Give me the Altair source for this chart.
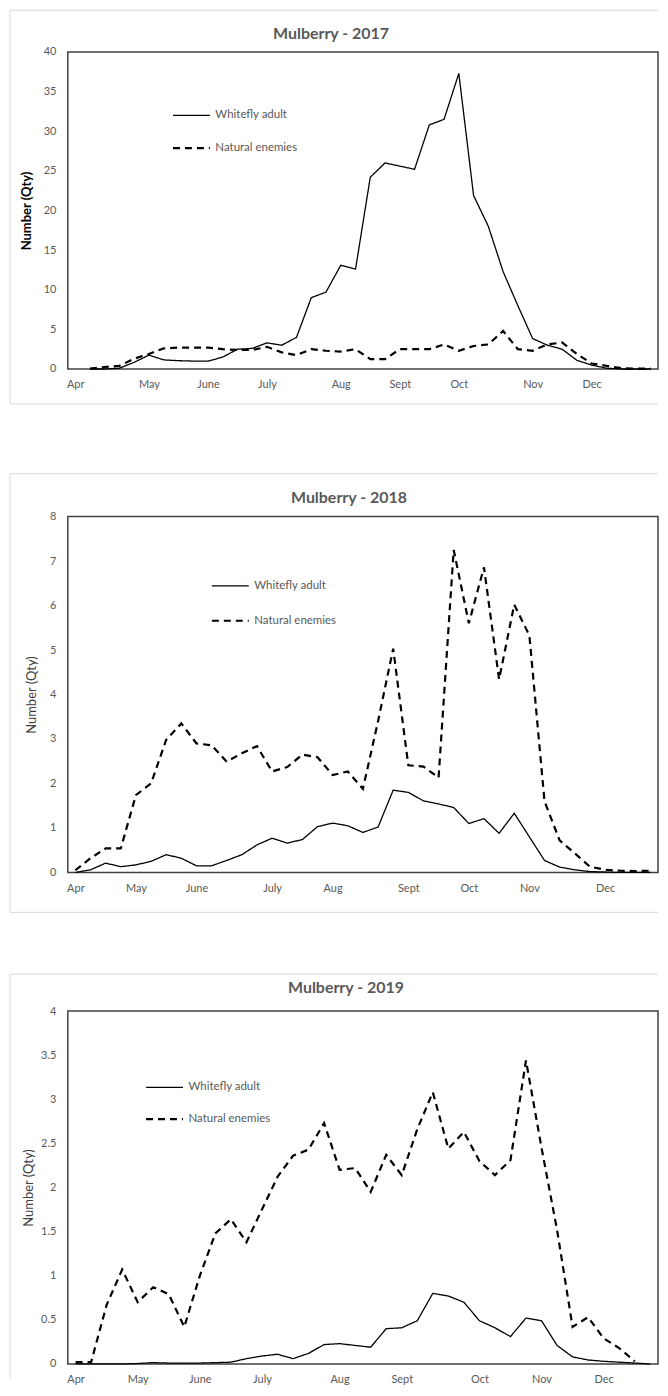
import altair as alt
import pandas as pd

SERIES = ["Whitefly adult", "Natural enemies"]
MONTHS = ["Apr", "May", "June", "July", "Aug", "Sept", "Oct", "Nov", "Dec"]

# ---------------- 2017 (weekly categories 0..39, data from week 1) ----------------
N_2017 = 40
START_2017 = 1
POS_2017 = [0, 5, 9, 13, 18, 22, 26, 31, 35]
YTICKS_2017 = [0, 5, 10, 15, 20, 25, 30, 35, 40]
WHITEFLY_2017 = [0, 0, 0.1, 0.85, 1.75, 1.15, 1.05, 1.0, 1.0, 1.5, 2.5, 2.6, 3.3, 3.0,
                 4.0, 9.0, 9.7, 13.1, 12.6, 24.2, 26.0, 25.6, 25.2, 30.8, 31.5, 37.3,
                 21.9, 18.0, 12.3, 8.0, 3.85, 3.0, 2.5, 1.1, 0.5, 0.1, 0, 0, 0]
ENEMIES_2017 = [0.05, 0.25, 0.4, 1.3, 1.9, 2.6, 2.7, 2.7, 2.7, 2.5, 2.4, 2.4, 2.8, 2.1,
                1.75, 2.5, 2.3, 2.2, 2.5, 1.25, 1.25, 2.5, 2.5, 2.5, 3.1, 2.3, 2.9, 3.1,
                4.8, 2.5, 2.3, 3.1, 3.35, 1.9, 0.7, 0.4, 0.1, 0.05, 0.05]

# ---------------- 2018 (weekly categories 0..38) ----------------
N_2018 = 39
START_2018 = 0
POS_2018 = [0, 4, 8, 13, 17, 22, 26, 30, 35]
YTICKS_2018 = [0, 1, 2, 3, 4, 5, 6, 7, 8]
WHITEFLY_2018 = [0, 0.06, 0.21, 0.13, 0.17, 0.25, 0.4, 0.32, 0.15, 0.15, 0.27, 0.4, 0.62,
                 0.77, 0.66, 0.74, 1.03, 1.11, 1.05, 0.9, 1.02, 1.85, 1.8, 1.61, 1.54,
                 1.46, 1.1, 1.21, 0.88, 1.33, 0.8, 0.27, 0.12, 0.06, 0.02, 0.01, 0, 0, 0]
ENEMIES_2018 = [0.05, 0.32, 0.54, 0.54, 1.74, 2.0, 2.98, 3.35, 2.9, 2.86, 2.49, 2.68, 2.84,
                2.27, 2.37, 2.65, 2.59, 2.19, 2.27, 1.88, 3.4, 5.03, 2.41, 2.38, 2.13,
                7.25, 5.6, 6.86, 4.34, 6.02, 5.33, 1.6, 0.72, 0.43, 0.13, 0.06, 0.04,
                0.03, 0.04]

# ---------------- 2019 (weekly categories 0..37) ----------------
N_2019 = 38
START_2019 = 0
POS_2019 = [0, 4, 8, 12, 17, 21, 26, 30, 34]
YTICKS_2019 = [0, 0.5, 1, 1.5, 2, 2.5, 3, 3.5, 4]
WHITEFLY_2019 = [0, 0, 0, 0, 0.005, 0.015, 0.01, 0.01, 0.01, 0.015, 0.02, 0.06, 0.09,
                 0.11, 0.06, 0.12, 0.22, 0.23, 0.21, 0.19, 0.4, 0.41, 0.49, 0.8, 0.77,
                 0.7, 0.49, 0.41, 0.31, 0.52, 0.49, 0.21, 0.08, 0.045, 0.03, 0.02, 0.01, 0]
ENEMIES_2019 = [0.02, 0.02, 0.67, 1.07, 0.7, 0.87, 0.79, 0.42, 1.0, 1.48, 1.64, 1.38,
                1.75, 2.12, 2.36, 2.43, 2.73, 2.2, 2.22, 1.95, 2.37, 2.14, 2.66, 3.08,
                2.44, 2.63, 2.3, 2.14, 2.31, 3.44, 2.45, 1.52, 0.42, 0.53, 0.29, 0.18, 0.03]

FONT = "Lato"
GREY = "#595959"
BORDER = "#d9d9d9"


def make_df(start, whitefly, enemies):
    rows = []
    for i, v in enumerate(whitefly):
        rows.append({"week": start + i, "value": v, "series": SERIES[0]})
    for i, v in enumerate(enemies):
        rows.append({"week": start + i, "value": v, "series": SERIES[1]})
    return pd.DataFrame(rows)


def legend(g):
    return alt.Legend(title=None, orient="none", legendX=g["lx"], legendY=g["ly"],
                      symbolType="stroke", symbolSize=1369, symbolStrokeColor="black",
                      labelFont=FONT, labelFontSize=11.5, labelColor=GREY,
                      labelOffset=4, rowPadding=g["rp"], padding=0)


def panel(title, n, start, pos, yticks, whitefly, enemies, width, height, g):
    df = make_df(start, whitefly, enemies)
    label_map = "{" + ",".join(f"'{p}':'{m}'" for p, m in zip(pos, MONTHS)) + "}"
    ymax = yticks[-1]
    lines = alt.Chart(df).mark_line(color="black").encode(
        x=alt.X("week:Q",
                scale=alt.Scale(domain=[-0.5, n - 0.5], nice=False, zero=False),
                axis=alt.Axis(values=pos, labelExpr=f"{label_map}[datum.value]",
                              title=None, grid=False, ticks=False, domain=False,
                              labelPadding=10, labelFont=FONT, labelFontSize=11,
                              labelColor=GREY, labelOverlap=False, labelFlush=False)),
        y=alt.Y("value:Q",
                scale=alt.Scale(domain=[0, ymax], nice=False, zero=True),
                axis=alt.Axis(values=yticks, format=".1~f", grid=False, ticks=False,
                              domain=False, labelPadding=12, labelFont=FONT,
                              labelFontSize=11, labelColor=GREY,
                              title="Number (Qty)", titleFont=FONT, titleFontSize=13,
                              titleFontWeight=g["tw"], titleColor=g["tc"],
                              titleX=g["tx"], titleY=height / 2, titleAngle=270,
                              titleAlign="center", titleBaseline="middle")),
        strokeDash=alt.StrokeDash("series:N",
                                  scale=alt.Scale(domain=SERIES, range=[[1, 0], [7, 5]]),
                                  legend=legend(g)),
        strokeWidth=alt.StrokeWidth("series:N",
                                    scale=alt.Scale(domain=SERIES, range=[1.3, 2.2]),
                                    legend=legend(g)),
    )
    one = pd.DataFrame({"k": [0]})
    layers = []
    # light grey chart-area border (left, top, optional bottom)
    layers.append(alt.Chart(one).mark_rule(color=BORDER, strokeWidth=1).encode(
        x=alt.value(g["bl"]), y=alt.value(g["bt"]), y2=alt.value(g["bb"])))
    layers.append(alt.Chart(one).mark_rule(color=BORDER, strokeWidth=1).encode(
        x=alt.value(g["bl"]), x2=alt.value(g["br"]), y=alt.value(g["bt"])))
    if g.get("bottom", True):
        layers.append(alt.Chart(one).mark_rule(color=BORDER, strokeWidth=1).encode(
            x=alt.value(g["bl"]), x2=alt.value(g["br"]), y=alt.value(g["bb"])))
    if g.get("spacer"):
        layers.append(alt.Chart(one).mark_rule(color="white", strokeOpacity=0).encode(
            x=alt.value(0), x2=alt.value(1), y=alt.value(g["spacer"])))
    # chart title (drawn as text so the outer border can sit above it)
    layers.append(alt.Chart(one).mark_text(
        text=title, font=FONT, fontSize=16, fontWeight="bold", color=GREY,
        align="center", baseline="middle").encode(
        x=alt.value(g["tx0"]), y=alt.value(g["ty0"])))
    layers.append(lines)
    return alt.layer(*layers).properties(width=width, height=height)


p1 = panel("Mulberry - 2017", N_2017, START_2017, POS_2017, YTICKS_2017,
           WHITEFLY_2017, ENEMIES_2017, 592, 318,
           dict(tw="bold", tc="black", tx=-41, lx=104, ly=44, rp=7.5,
                bl=-58, bt=-42, bb=353, br=592, spacer=361.5, tx0=264, ty0=-18))
p2 = panel("Mulberry - 2018", N_2018, START_2018, POS_2018, YTICKS_2018,
           WHITEFLY_2018, ENEMIES_2018, 592, 357,
           dict(tw="normal", tc="#404040", tx=-36, lx=143, ly=50, rp=9.5,
                bl=-58, bt=-43, bb=397, br=592, tx0=282, ty0=-19))
p3 = panel("Mulberry - 2019", N_2019, START_2019, POS_2019, YTICKS_2019,
           WHITEFLY_2019, ENEMIES_2019, 592, 354,
           dict(tw="normal", tc="#404040", tx=-39.5, lx=77, ly=57, rp=6.5,
                bl=-58, bt=-37, bb=369, br=592, bottom=False, tx0=279, ty0=-23))

chart = alt.vconcat(p1, p2, p3, spacing=58).resolve_scale(
    x="independent", y="independent", strokeDash="independent",
    strokeWidth="independent").resolve_legend(
    strokeDash="independent", strokeWidth="independent").properties(
    padding={"left": 0, "top": -2, "right": 0, "bottom": 0},
    background="white").configure(
    font=FONT, view=alt.ViewConfig(stroke="#404040", strokeWidth=1.5))

chart.save("out.html", embed_options={"renderer": "svg", "actions": False})
